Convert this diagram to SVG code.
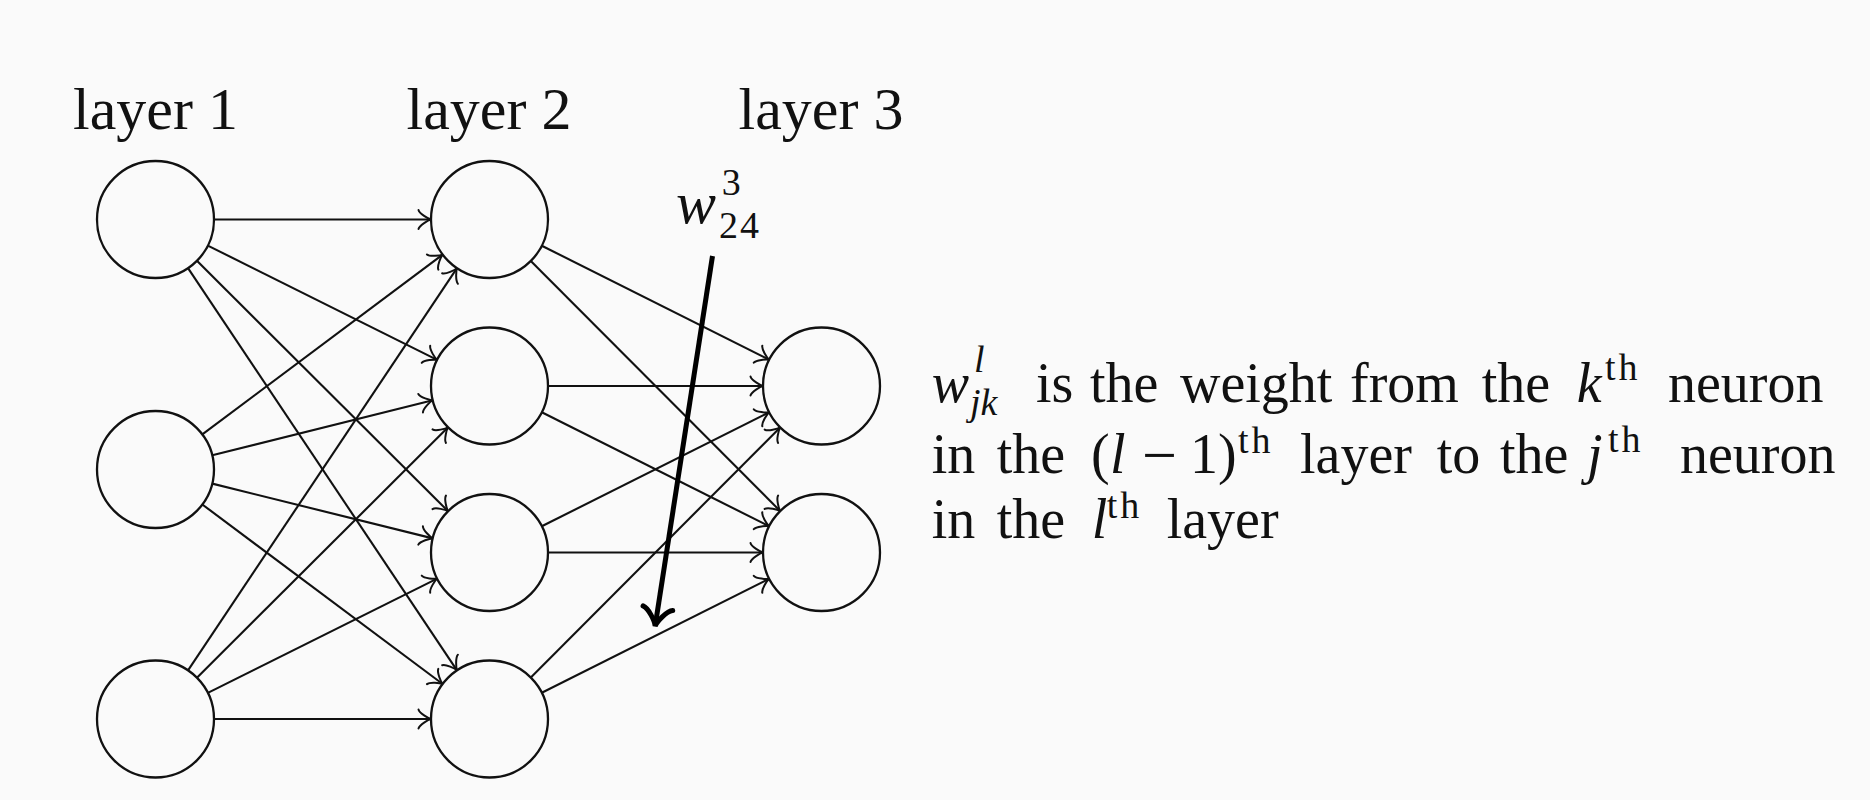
<svg xmlns="http://www.w3.org/2000/svg" width="1870" height="800" viewBox="0 0 1870 800">
<style>
text{font-family:"Liberation Serif","Times New Roman",serif;fill:#111}
.lbl{font-size:60px;text-anchor:middle}
.p{font-size:56px}
.i{font-style:italic}
.s{font-size:38px}
.sup{font-size:38px;letter-spacing:3px}
.node circle{fill:none;stroke:#111;stroke-width:2.3}
.edges line{stroke:#111;stroke-width:2.1;marker-end:url(#ah)}
</style>
<defs>
<marker id="ah" markerUnits="userSpaceOnUse" markerWidth="30" markerHeight="30" viewBox="-15 -15 30 30" refX="0" refY="0" orient="auto" overflow="visible">
<path d="M-12.5,-9.5 C-11.6,-5.8 -2.6,-0.6 0,0 C-2.6,0.6 -11.6,5.8 -12.5,9.5" fill="none" stroke="#111" stroke-width="2" stroke-linecap="round"/>
</marker>
<marker id="ahb" markerUnits="userSpaceOnUse" markerWidth="40" markerHeight="40" viewBox="-20 -20 40 40" refX="0" refY="0" orient="auto" overflow="visible">
<path d="M-17,-15 C-15.5,-9 -3.5,-1 1,0 C-3.5,1 -15.5,9 -17,15" fill="none" stroke="#000" stroke-width="5" stroke-linecap="round"/>
</marker>
</defs>
<rect x="0" y="0" width="1870" height="800" fill="#fafafa"/>

<g id="labels">
<text class="lbl" x="155.5" y="129">layer 1</text>
<text class="lbl" x="489" y="129">layer 2</text>
<text class="lbl" x="821" y="129">layer 3</text>
</g>

<g id="edges" class="edges">
<line x1="214" y1="219.5" x2="431" y2="219.5"/>
<line x1="207.86" y1="245.6" x2="437.14" y2="359.9"/>
<line x1="196.93" y1="260.81" x2="448.07" y2="511.19"/>
<line x1="188.02" y1="268.13" x2="456.98" y2="670.37"/>
<line x1="202.33" y1="434.45" x2="442.67" y2="254.55"/>
<line x1="212.25" y1="455.31" x2="432.75" y2="400.19"/>
<line x1="212.27" y1="483.61" x2="432.73" y2="538.39"/>
<line x1="202.37" y1="504.51" x2="442.63" y2="683.99"/>
<line x1="188.02" y1="670.37" x2="456.98" y2="268.13"/>
<line x1="196.93" y1="677.69" x2="448.07" y2="427.31"/>
<line x1="207.86" y1="692.9" x2="437.14" y2="578.6"/>
<line x1="214" y1="719" x2="431" y2="719"/>
<line x1="541.79" y1="245.73" x2="769.21" y2="359.77"/>
<line x1="530.8" y1="260.93" x2="780.2" y2="511.07"/>
<line x1="548" y1="386" x2="763" y2="386"/>
<line x1="541.79" y1="412.23" x2="769.21" y2="526.27"/>
<line x1="541.79" y1="526.27" x2="769.21" y2="412.23"/>
<line x1="548" y1="552.5" x2="763" y2="552.5"/>
<line x1="530.8" y1="677.57" x2="780.2" y2="427.43"/>
<line x1="541.79" y1="692.77" x2="769.21" y2="578.73"/>
</g>

<g id="n1_1" class="node"><circle cx="155.5" cy="219.5" r="58.5"/></g>
<g id="n1_2" class="node"><circle cx="155.5" cy="469.5" r="58.5"/></g>
<g id="n1_3" class="node"><circle cx="155.5" cy="719" r="58.5"/></g>
<g id="n2_1" class="node"><circle cx="489.5" cy="219.5" r="58.5"/></g>
<g id="n2_2" class="node"><circle cx="489.5" cy="386" r="58.5"/></g>
<g id="n2_3" class="node"><circle cx="489.5" cy="552.5" r="58.5"/></g>
<g id="n2_4" class="node"><circle cx="489.5" cy="719" r="58.5"/></g>
<g id="n3_1" class="node"><circle cx="821.5" cy="386" r="58.5"/></g>
<g id="n3_2" class="node"><circle cx="821.5" cy="552.5" r="58.5"/></g>

<g id="weight-pointer">
<line x1="712.5" y1="256" x2="655.3" y2="625" stroke="#000" stroke-width="5" marker-end="url(#ahb)"/>
<text x="676" y="223" font-size="60px" class="i">w<tspan x="721.7" y="195" font-size="38px" font-style="normal">3</tspan><tspan x="719" y="238" font-size="38px" font-style="normal" letter-spacing="2px">24</tspan></text>
</g>

<g id="caption">
<text class="p" y="402"><tspan x="931.7" class="i">w</tspan><tspan x="974" y="372" class="i s">l</tspan><tspan x="970" y="415" class="i s">jk</tspan> <tspan x="1036" y="402">is</tspan> <tspan x="1090">the</tspan> <tspan x="1180">weight</tspan> <tspan x="1350">from</tspan> <tspan x="1481.7">the</tspan> <tspan x="1576.7" class="i">k</tspan><tspan x="1605" y="380" class="sup">th</tspan> <tspan x="1668" y="402">neuron</tspan></text>
<text class="p" y="473"><tspan x="931.7">in</tspan> <tspan x="996.7">the</tspan> <tspan x="1091">(</tspan><tspan x="1110" class="i">l</tspan><tspan x="1142" y="475.5" font-size="62px">−</tspan><tspan x="1190" y="473">1</tspan><tspan x="1218">)</tspan><tspan x="1238" y="453" class="sup">th</tspan> <tspan x="1300" y="473">layer</tspan> <tspan x="1436.7">to</tspan> <tspan x="1500">the</tspan> <tspan x="1587" class="i">j</tspan><tspan x="1608" y="452" class="sup">th</tspan> <tspan x="1680" y="473">neuron</tspan></text>
<text class="p" y="538"><tspan x="931.7">in</tspan> <tspan x="996.7">the</tspan> <tspan x="1091.7" class="i">l</tspan><tspan x="1106.7" y="518" class="sup">th</tspan> <tspan x="1166.7" y="538">layer</tspan></text>
</g>
</svg>
